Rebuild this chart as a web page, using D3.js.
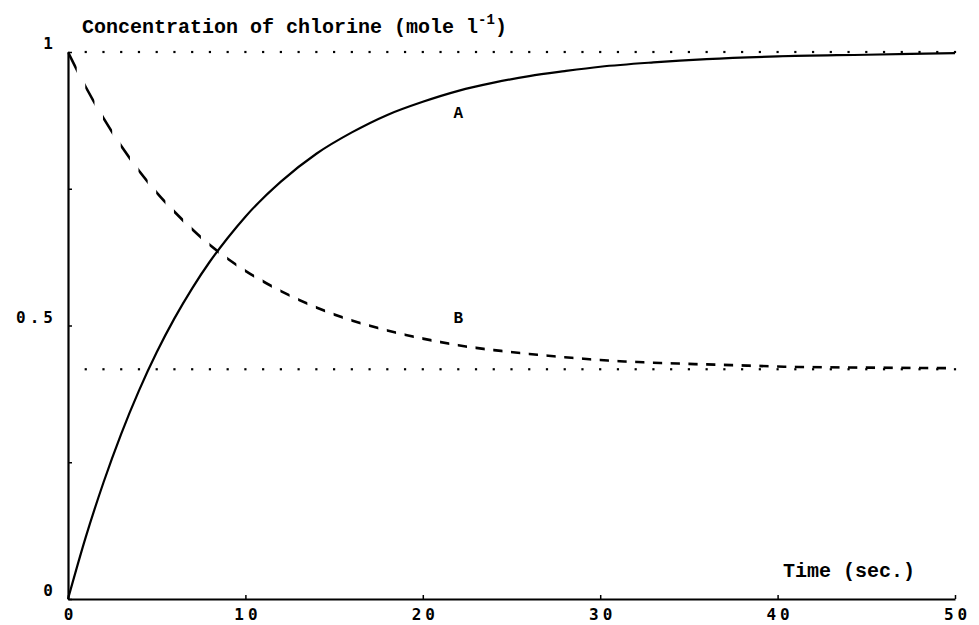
<!DOCTYPE html>
<html>
<head>
<meta charset="utf-8">
<script src="https://cdn.jsdelivr.net/npm/d3@7"></script>
<style>
  html, body { margin: 0; padding: 0; background: #fff; }
  svg { display: block; }
</style>
</head>
<body>
<svg id="chart" width="979" height="625"></svg>
<script>
// ---- data ----
const time    = [0, 1, 2, 3, 4, 5, 6, 7, 8, 9, 10, 12, 14, 16, 18, 20, 22, 24, 26, 28, 30, 33, 36, 40, 45, 50];
const seriesA = [0, 0.113, 0.213, 0.302, 0.381, 0.451, 0.513, 0.568, 0.617, 0.660, 0.699, 0.763, 0.814, 0.853, 0.885, 0.909, 0.929, 0.944, 0.956, 0.965, 0.973, 0.981, 0.987, 0.992, 0.995, 0.998];
const seriesB = [1.0, 0.936, 0.879, 0.828, 0.783, 0.743, 0.708, 0.676, 0.647, 0.622, 0.600, 0.563, 0.533, 0.509, 0.491, 0.476, 0.464, 0.455, 0.448, 0.442, 0.437, 0.432, 0.429, 0.425, 0.423, 0.422];
const levels  = [1.0, 0.42];                 // dotted asymptote lines
const xTicks  = [0, 10, 20, 30, 40, 50];
const yTicks  = [0, 0.25, 0.5, 0.75, 1];
const yTickLabels = {0: "0", 0.5: "0.5", 1: "1"};
const seriesLabels = [{name: "A", t: 22, v: 0.89}, {name: "B", t: 22, v: 0.515}];

// ---- layout ----
const svg = d3.select("#chart");
const x = d3.scaleLinear().domain([0, 50]).range([68, 955]);
const y = d3.scaleLinear().domain([0, 1]).range([599, 52]);
const tickFont = "'DejaVu Sans Mono', monospace";
const textFont = "'Liberation Mono', 'Courier New', monospace";

// dotted asymptote lines (dots once per second)
const dotT = d3.range(1, 51);
levels.forEach(lv => {
  svg.append("g").selectAll("rect").data(dotT).join("rect")
    .attr("x", d => x(d) - 1.1).attr("y", y(lv) - 1.1)
    .attr("width", 2.2).attr("height", 2.2).attr("fill", "#000");
});

// axes
const xAxis = svg.append("g").attr("transform", `translate(0,${y(0)})`)
  .call(d3.axisBottom(x).tickValues(xTicks).tickSizeInner(-4).tickSizeOuter(0).tickPadding(10).tickFormat(d3.format("d")));
const yAxis = svg.append("g").attr("transform", `translate(${x(0)},0)`)
  .call(d3.axisLeft(y).tickValues(yTicks).tickSizeInner(-4).tickSizeOuter(0).tickPadding(11)
    .tickFormat(d => yTickLabels[d] || ""));
[xAxis, yAxis].forEach(g => {
  g.select(".domain").attr("stroke", "#000").attr("stroke-width", 2.2);
  g.selectAll(".tick line").attr("stroke", "#000").attr("stroke-width", 1.5);
  g.selectAll(".tick text").attr("font-family", tickFont).attr("font-size", 16)
    .attr("font-weight", "bold").attr("fill", "#000")
    .style("letter-spacing", "4px");
});
xAxis.selectAll(".tick text").attr("dx", "2px");
yAxis.selectAll(".tick text").attr("dy", "-0.2em");

// curve A (solid)
const line = d3.line().x(d => x(d[0])).y(d => y(d[1])).curve(d3.curveMonotoneX);
svg.append("path").datum(time.map((t, i) => [t, seriesA[i]]))
  .attr("d", line).attr("fill", "none").attr("stroke", "#000").attr("stroke-width", 2.2);

// curve B (dashed: dashes spaced evenly in time, as in the original plot)
const clip = svg.append("defs").append("clipPath").attr("id", "dashclip");
clip.selectAll("rect").data(d3.range(0, 50, 1)).join("rect")
  .attr("x", d => x(d) - 0.5).attr("y", 0)
  .attr("width", x(0.52) - x(0)).attr("height", 625);
svg.append("path").datum(time.map((t, i) => [t, seriesB[i]]))
  .attr("d", line).attr("fill", "none").attr("stroke", "#000").attr("stroke-width", 2.6)
  .attr("clip-path", "url(#dashclip)");

// series labels
svg.append("g").selectAll("text").data(seriesLabels).join("text")
  .attr("x", d => x(d.t)).attr("y", d => y(d.v))
  .attr("text-anchor", "middle").attr("dy", "0.35em")
  .attr("font-family", textFont).attr("font-weight", "bold").attr("font-size", 16)
  .text(d => d.name);

// axis titles
const title = svg.append("text").attr("x", 82).attr("y", 33)
  .attr("font-family", textFont).attr("font-weight", "bold").attr("font-size", 20).attr("fill", "#000");
title.append("tspan").text("Concentration of chlorine (mole l");
title.append("tspan").attr("dy", -9).attr("font-size", 14).text("-1");
title.append("tspan").attr("dy", 9).text(")");

svg.append("text").attr("x", 915).attr("y", 577).attr("text-anchor", "end")
  .attr("font-family", textFont).attr("font-weight", "bold").attr("font-size", 20).attr("fill", "#000")
  .text("Time (sec.)");
</script>
</body>
</html>
